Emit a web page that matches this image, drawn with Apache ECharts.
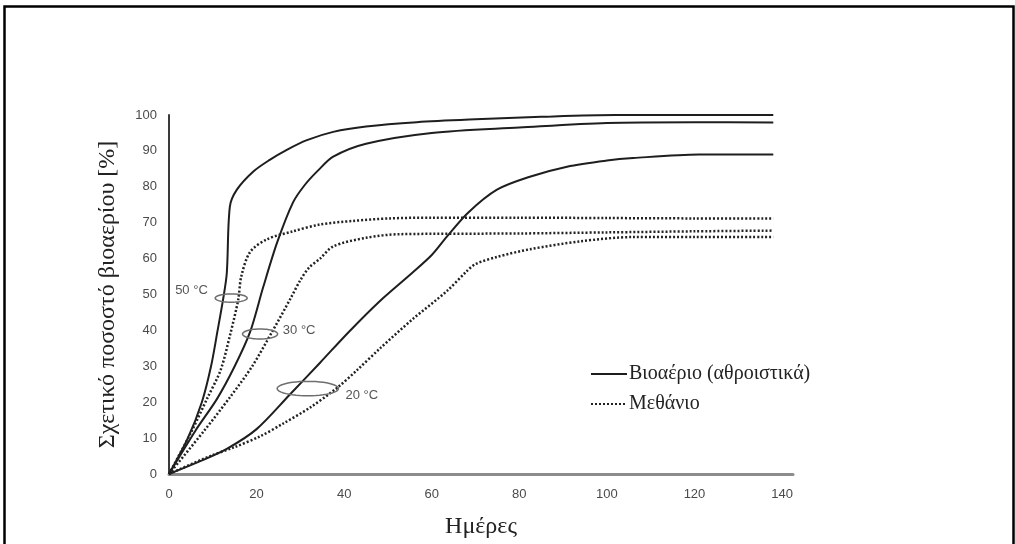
<!DOCTYPE html>
<html><head><meta charset="utf-8">
<script src="https://cdn.jsdelivr.net/npm/echarts@6/dist/echarts.min.js"></script>
<style>html,body{margin:0;padding:0;background:#fff}#c{width:1015px;height:544px}</style>
</head><body><div id="c"></div>
<script>
// ---- data ----
const xTickValues = [0, 20, 40, 60, 80, 100, 120, 140];
const yTickValues = [0, 10, 20, 30, 40, 50, 60, 70, 80, 90, 100];
const xTitle = 'Ημέρες';
const yTitle = 'Σχετικό ποσοστό βιοαερίου [%]';
const legendBiogas = 'Βιοαέριο (αθροιστικά)';
const legendMethane = 'Μεθάνιο';

// Biogas (cumulative), solid lines: [day, %]
const biogas50 = [[0,0],[4.3,10],[7.5,20],[9.6,30],[11.1,40],[12.4,49],[13.2,56],[13.9,74.5],[15.5,79.2],[19.2,84.2],[23,87.5],[26.9,90.3],[31.5,93],[37.5,95.3],[45,96.8],[56.6,98],[70,98.8],[85,99.5],[102,100],[120,100],[138,100]];
const biogas30 = [[0,0],[6,12],[11,21],[15,30],[18.5,39.5],[21.5,52],[24.7,64.5],[28.3,75.6],[31,80.5],[34,84.5],[37.5,88.4],[45,92],[60,95],[80,96.5],[100,97.8],[120,98],[138,97.9]];
const biogas20 = [[0,0],[7,3.5],[13.2,7],[20,12.5],[27.5,22],[34.5,31],[41,39.5],[48,48],[55.7,56.2],[60,61],[63.5,66.2],[68.3,72.8],[74.9,79.2],[82.4,82.8],[90.9,85.6],[100,87.3],[106,88],[121,89],[138,89]];

// Methane, dotted lines: [day, %]
const methane50 = [[0,0],[5,11.5],[8.7,21],[11.8,29],[14,39],[15.8,48.5],[16.5,55],[18.5,61.8],[22.4,65.4],[28.3,67.6],[34.5,69.5],[42,70.5],[50.5,71.2],[60,71.4],[80,71.4],[100,71.3],[120,71.2],[138,71.2]];
const methane30 = [[0,0],[8,12],[14,21.5],[19,30],[23.5,39.5],[27.8,49],[30,54],[32,57.5],[34.5,60],[37.5,63.4],[45,65.8],[52.7,66.8],[80,67],[100,67.3],[120,67.6],[138,67.8]];
const methane20 = [[0,0],[9.4,5],[15,7.5],[20.8,10.5],[26,14],[32.2,18.5],[38.4,24],[43,29],[48.2,35],[55.7,43.2],[63.5,51],[68,56.5],[70,58.5],[75,60.5],[82.4,62.6],[93.9,64.8],[106,66],[120,66],[138,66]];

// Temperature annotations: label, ellipse centre day, centre %, span days, span %, label day, label %
const annotLabels = ['50 °C', '30 °C', '20 °C'];
const annotEllipses = [[14.2, 49, 7.3, 2.3], [20.8, 39, 8, 2.8], [31.7, 23.8, 14, 4]];
const annotLabelPos = [[1.4, 51], [26, 40], [40.3, 22]];

// ---- chart ----
const chart = echarts.init(document.getElementById('c'), null, {renderer: 'canvas'});
const solidStyle = {color: '#1e1e1e', width: 2, type: 'solid'};
const dotStyle = {color: '#222222', width: 2.5, type: [2, 2]};
function lineSeries(name, data, style) {
  return {name: name, type: 'line', data: data, showSymbol: false, symbol: 'none',
    smooth: 0.3, lineStyle: style, itemStyle: {color: style.color},
    silent: true, z: 3};
}
const annotData = annotEllipses.map((e, i) => e.concat(annotLabelPos[i]).concat([i]));

const option = {
  backgroundColor: '#fff',
  animation: false,
  grid: {left: 169, right: 222, top: 115, bottom: 67, containLabel: false},
  xAxis: {
    type: 'value', min: 0, max: 142.5, interval: 20,
    name: xTitle, nameLocation: 'middle', nameGap: 41,
    nameTextStyle: {fontFamily: 'Liberation Serif', fontSize: 24, color: '#222'},
    axisLine: {show: true, lineStyle: {color: '#8c8c8c', width: 3}},
    axisTick: {show: false}, splitLine: {show: false},
    axisLabel: {show: true, showMaxLabel: false, margin: 14, fontFamily: 'Liberation Sans', fontSize: 13, color: '#4a4a4a',
      formatter: v => xTickValues.indexOf(v) >= 0 ? String(v) : ''}
  },
  yAxis: {
    type: 'value', min: 0, max: 100, interval: 10,
    name: yTitle, nameLocation: 'middle', nameGap: 49, nameRotate: 90,
    nameTextStyle: {fontFamily: 'Liberation Serif', fontSize: 24, color: '#222'},
    axisLine: {show: true, lineStyle: {color: '#3a3a3a', width: 2}},
    axisTick: {show: false}, splitLine: {show: false},
    axisLabel: {margin: 12, fontFamily: 'Liberation Sans', fontSize: 13, color: '#4a4a4a',
      formatter: v => yTickValues.indexOf(v) >= 0 ? String(v) : ''}
  },
  legend: {
    orient: 'vertical', left: 585, top: 359, itemWidth: 36, itemHeight: 14, itemGap: 10,
    data: [legendBiogas, legendMethane],
    itemStyle: {opacity: 0},
    textStyle: {fontFamily: 'Liberation Serif', fontSize: 20, color: '#222', padding: [0, 0, 0, -3]},
    selectedMode: false
  },
  graphic: [{
    type: 'rect', left: 2, top: 4, silent: true,
    shape: {x: 0, y: 0, width: 1009, height: 600},
    style: {fill: 'none', stroke: '#000', lineWidth: 2.5}
  }],
  series: [
    lineSeries(legendBiogas, biogas50, solidStyle),
    lineSeries(legendBiogas, biogas30, solidStyle),
    lineSeries(legendBiogas, biogas20, solidStyle),
    lineSeries(legendMethane, methane50, dotStyle),
    lineSeries(legendMethane, methane30, dotStyle),
    lineSeries(legendMethane, methane20, dotStyle),
    {
      type: 'custom', silent: true, z: 5, data: annotData,
      renderItem: function (params, api) {
        const c = api.coord([api.value(0), api.value(1)]);
        const s = api.size([api.value(2), api.value(3)]);
        const rx = s[0] / 2, ry = s[1] / 2;
        const pts = [];
        for (let k = 0; k < 48; k++) {
          const a = k / 48 * Math.PI * 2;
          pts.push([c[0] + rx * Math.cos(a), c[1] + ry * Math.sin(a)]);
        }
        const lp = api.coord([api.value(4), api.value(5)]);
        const idx = api.value(6);
        return {type: 'group', children: [
          {type: 'polygon', shape: {points: pts}, style: {fill: 'none', stroke: '#6e6e6e', lineWidth: 1.5}},
          {type: 'text', x: lp[0], y: lp[1], style: {text: annotLabels[idx], fill: '#555',
            font: '13px "Liberation Sans"', textAlign: 'left', textVerticalAlign: 'middle'}}
        ]};
      }
    }
  ]
};
chart.setOption(option);
</script>
</body></html>
